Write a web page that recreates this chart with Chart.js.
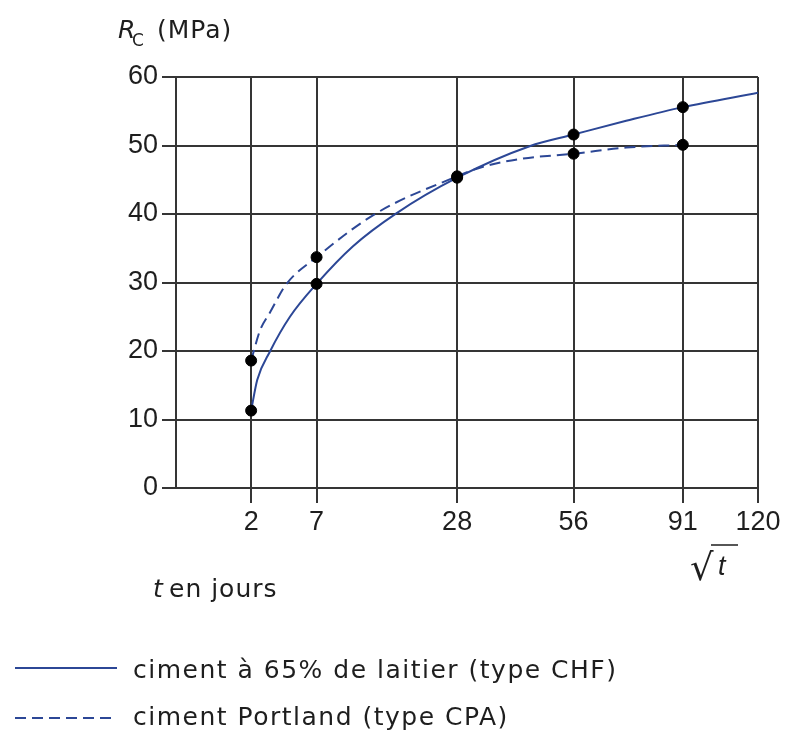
<!DOCTYPE html>
<html>
<head>
<meta charset="utf-8">
<script src="https://cdn.jsdelivr.net/npm/chart.js@4.4.1/dist/chart.umd.min.js"></script>
<style>
  body { margin: 0; background: #fff; }
  canvas { display: block; }
</style>
</head>
<body>
<canvas id="chart" width="788" height="735"></canvas>
<script>
// x axis is drawn on a square-root scale of the age (days)
const tickDays = [2, 7, 28, 56, 91, 120];
const maxDay = 120;

// measured points (black dots)
const days = [2, 7, 28, 56, 91];
const chfPoints = [11.3, 29.8, 45.3, 51.6, 55.6];
const cpaPoints = [18.6, 33.7, 45.5, 48.8, 50.1];

// curves
const chfCurveDays = [2, 2.34, 3.12, 4.6, 7, 11.1, 17.2, 28, 44.3, 56, 71.8, 91, 120];
const chfCurve = [11.3, 15.8, 19.9, 25.0, 29.8, 35.3, 40.1, 45.3, 49.9, 51.6, 53.6, 55.6, 57.7];
const cpaCurveDays = [2, 2.5, 3.12, 4.33, 7, 14.2, 28, 33.4, 42.7, 56, 71.8, 91];
const cpaCurve = [18.6, 23.0, 25.6, 29.8, 33.7, 40.1, 45.5, 46.9, 48.1, 48.8, 49.7, 50.1];

const labelChf = 'ciment à 65% de laitier (type CHF)';
const labelCpa = 'ciment Portland (type CPA)';

const FONT = '"Liberation Sans", Arial, Helvetica, sans-serif';
const TEXT_FONT = '"DejaVu Sans", sans-serif';
const BLUE = '#2c4796';
const GRID = '#353535';
const INK = '#1e1e1e';

const pts = (ds, vs) => ds.map((d, i) => ({ x: Math.sqrt(d), y: vs[i] }));

// texts around the plot: axis titles and legend
const extras = {
  id: 'extras',
  afterDraw(chart) {
    const ctx = chart.ctx;
    ctx.save();
    ctx.fillStyle = INK;
    ctx.textBaseline = 'alphabetic';
    ctx.textAlign = 'left';
    ctx.letterSpacing = '1px';

    // y title : Rc (MPa)
    ctx.font = 'italic 25px ' + TEXT_FONT;
    ctx.fillText('R', 118, 38);
    ctx.font = '17px ' + TEXT_FONT;
    ctx.fillText('C', 132, 46);
    ctx.font = '25px ' + TEXT_FONT;
    ctx.fillText('(MPa)', 157, 38);

    // t en jours
    ctx.font = 'italic 25px ' + TEXT_FONT;
    ctx.fillText('t', 153, 597);
    ctx.font = '25px ' + TEXT_FONT;
    ctx.fillText('en jours', 169, 597);

    // sqrt(t)
    ctx.letterSpacing = '0px';
    ctx.font = '37px ' + TEXT_FONT;
    ctx.fillText('\u221A', 690, 580);
    ctx.font = 'italic 27px ' + FONT;
    ctx.fillText('t', 718, 575);
    ctx.strokeStyle = INK;
    ctx.lineWidth = 1.5;
    ctx.beginPath();
    ctx.moveTo(711, 545);
    ctx.lineTo(738, 545);
    ctx.stroke();

    // legend
    ctx.letterSpacing = '1.5px';
    ctx.strokeStyle = BLUE;
    ctx.lineWidth = 2;
    ctx.setLineDash([]);
    ctx.beginPath();
    ctx.moveTo(15, 668);
    ctx.lineTo(117, 668);
    ctx.stroke();
    ctx.setLineDash([11, 6]);
    ctx.beginPath();
    ctx.moveTo(15, 718);
    ctx.lineTo(117, 718);
    ctx.stroke();
    ctx.setLineDash([]);
    ctx.font = '25px ' + TEXT_FONT;
    ctx.fillText(labelChf, 133, 678);
    ctx.fillText(labelCpa, 133, 725);
    ctx.restore();
  }
};

new Chart(document.getElementById('chart'), {
  type: 'line',
  data: {
    datasets: [
      {
        label: 'CHF points',
        data: pts(days, chfPoints),
        showLine: false,
        pointRadius: 5.5,
        pointBackgroundColor: '#000',
        pointBorderColor: '#000',
        order: 0
      },
      {
        label: 'CPA points',
        data: pts(days, cpaPoints),
        showLine: false,
        pointRadius: 5.5,
        pointBackgroundColor: '#000',
        pointBorderColor: '#000',
        order: 0
      },
      {
        label: labelChf,
        data: pts(chfCurveDays, chfCurve),
        borderColor: BLUE,
        borderWidth: 2,
        pointRadius: 0,
        cubicInterpolationMode: 'monotone',
        order: 1
      },
      {
        label: labelCpa,
        data: pts(cpaCurveDays, cpaCurve),
        borderColor: BLUE,
        borderWidth: 2,
        borderDash: [11, 6],
        pointRadius: 0,
        cubicInterpolationMode: 'monotone',
        order: 1
      }
    ]
  },
  options: {
    responsive: false,
    animation: false,
    layout: { padding: { top: 77, right: 30, left: 0, bottom: 0 } },
    plugins: {
      legend: { display: false },
      tooltip: { enabled: false }
    },
    scales: {
      x: {
        type: 'linear',
        min: 0,
        max: Math.sqrt(maxDay),
        afterBuildTicks: s => { s.ticks = tickDays.map(d => ({ value: Math.sqrt(d) })); },
        afterFit: s => { s.height = 735 - 488; s.paddingLeft = 0; s.paddingRight = 0; },
        grid: { color: GRID, lineWidth: 2, tickLength: 15 },
        border: { color: GRID, width: 2 },
        ticks: {
          color: INK,
          font: { family: FONT, size: 27 },
          padding: 3,
          maxRotation: 0,
          autoSkip: false,
          callback: (v, i) => tickDays[i]
        }
      },
      y: {
        min: 0,
        max: 60,
        afterFit: s => { s.width = 176; s.paddingTop = 0; s.paddingBottom = 0; },
        grid: { color: GRID, lineWidth: 2, tickLength: 14 },
        border: { color: GRID, width: 2 },
        ticks: {
          stepSize: 10,
          color: INK,
          font: { family: FONT, size: 27 },
          padding: 4
        }
      }
    }
  },
  plugins: [extras]
});
</script>
</body>
</html>
